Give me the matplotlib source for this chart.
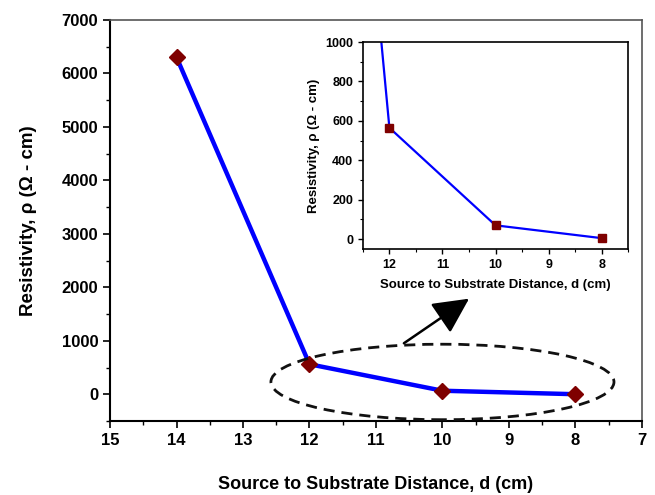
import matplotlib.pyplot as plt
from matplotlib.patches import Ellipse
from matplotlib.ticker import MultipleLocator

plt.rcParams['font.family'] = ['Liberation Sans', 'DejaVu Sans']
plt.rcParams['font.weight'] = 'bold'

# data
distance = [14, 12, 10, 8]
resistivity = [6300, 565, 70, 5]

line_color = '#0000FF'
marker_color = '#7F0000'

fig = plt.figure(figsize=(6.55, 4.95), dpi=100)

# main axes
ax = fig.add_axes([0.168, 0.149, 0.812, 0.811])
ax.plot(distance, resistivity, '-', color=line_color, linewidth=3.2, zorder=2)
ax.plot(distance, resistivity, 'D', color=marker_color, markersize=8, zorder=3)

ax.set_xlim(15, 7)
ax.set_ylim(-500, 7000)
ax.xaxis.set_major_locator(MultipleLocator(1))
ax.xaxis.set_minor_locator(MultipleLocator(0.5))
ax.yaxis.set_major_locator(MultipleLocator(1000))
ax.yaxis.set_minor_locator(MultipleLocator(500))
ax.tick_params(which='major', direction='out', length=5, width=1.2, labelsize=12)
ax.tick_params(which='minor', direction='out', length=3, width=1.0)
for lbl in ax.get_xticklabels() + ax.get_yticklabels():
    lbl.set_fontweight('bold')
for s in ['left', 'bottom']:
    ax.spines[s].set_linewidth(1.5)
for s in ['top', 'right']:
    ax.spines[s].set_linewidth(1.2)
    ax.spines[s].set_color('#555555')

ax.set_xlabel('Source to Substrate Distance, d (cm)', fontsize=13, fontweight='bold', labelpad=20)
ax.set_ylabel('Resistivity, ρ (Ω - cm)', fontsize=13.5, fontweight='bold', labelpad=18)

# dashed ellipse around the low values
ell = Ellipse((10.0, 234), width=5.16, height=1410, fill=False,
              linestyle=(0, (4, 2.5)), linewidth=2, edgecolor='#111111', zorder=4)
ax.add_patch(ell)

# arrow pointing to the inset
ax.annotate('', xy=(9.6, 1790), xytext=(10.58, 957),
            arrowprops=dict(arrowstyle='-|>,head_length=1.1,head_width=0.55',
                            color='black', lw=1.8, mutation_scale=20,
                            shrinkA=0, shrinkB=0))

# inset
ins = fig.add_axes([0.554, 0.497, 0.405, 0.418])
ins.plot(distance, resistivity, '-', color=line_color, linewidth=1.6, zorder=2)
ins.plot(distance, resistivity, 's', color=marker_color, markersize=5.5, zorder=3)
ins.set_xlim(12.5, 7.5)
ins.set_ylim(-50, 1000)
ins.xaxis.set_major_locator(MultipleLocator(1))
ins.xaxis.set_minor_locator(MultipleLocator(0.5))
ins.yaxis.set_major_locator(MultipleLocator(200))
ins.yaxis.set_minor_locator(MultipleLocator(100))
ins.tick_params(which='major', direction='out', length=3.5, width=1.0, labelsize=9)
ins.tick_params(which='minor', direction='out', length=2, width=0.8)
for lbl in ins.get_xticklabels() + ins.get_yticklabels():
    lbl.set_fontweight('bold')
for s in ins.spines.values():
    s.set_linewidth(1.2)
ins.set_xlabel('Source to Substrate Distance, d (cm)', fontsize=9.5, fontweight='bold', labelpad=6)
ins.set_ylabel('Resistivity, ρ (Ω - cm)', fontsize=9.5, fontweight='bold', labelpad=4)

fig.savefig('out.png', dpi=100, facecolor='white')
